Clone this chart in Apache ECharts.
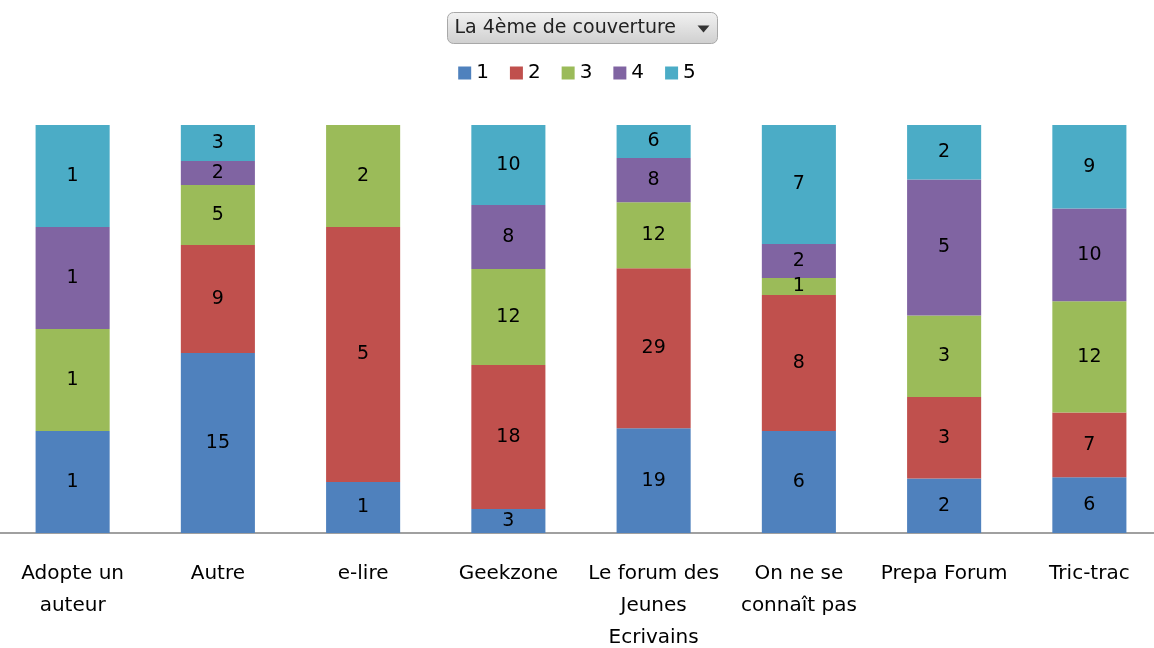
<!DOCTYPE html>
<html><head><meta charset="utf-8">
<script src="https://cdn.jsdelivr.net/npm/echarts@6/dist/echarts.min.js"></script>
<style>html,body{margin:0;padding:0;background:#fff}#c{width:1154px;height:648px}</style>
</head><body><div id="c"></div>
<script>
const categories = ['Adopte un\nauteur', 'Autre', 'e-lire', 'Geekzone', 'Le forum des\nJeunes\nEcrivains', 'On ne se\nconnaît pas', 'Prepa Forum', 'Tric-trac'];
const seriesNames = ['1', '2', '3', '4', '5'];
const s1 = [1, 15, 1, 3, 19, 6, 2, 6];
const s2 = [0, 9, 5, 18, 29, 8, 3, 7];
const s3 = [1, 5, 2, 12, 12, 1, 3, 12];
const s4 = [1, 2, 0, 8, 8, 2, 5, 10];
const s5 = [1, 3, 0, 10, 6, 7, 2, 9];
const colors = ['#4F81BD', '#C0504D', '#9BBB59', '#8064A2', '#4BACC6'];
const filterLabel = 'La 4ème de couverture';

const raw = [s1, s2, s3, s4, s5];
const totals = categories.map((_, i) => raw.reduce((a, s) => a + s[i], 0));
const font = '"DejaVu Sans", Verdana, sans-serif';

const chart = echarts.init(document.getElementById('c'), null, {renderer: 'canvas'});
chart.setOption({
  animation: false,
  color: colors,
  legend: {
    top: 58, left: 'center', itemWidth: 13, itemHeight: 13, itemGap: 21,
    icon: 'rect',
    textStyle: {fontSize: 20, color: '#000', fontFamily: font, padding: [0, 0, 0, 0]},
    data: seriesNames
  },
  graphic: [{
    type: 'group', left: 447, top: 12,
    children: [
      {type: 'rect', shape: {x: 0, y: 0, width: 270, height: 31, r: 6},
       style: {fill: new echarts.graphic.LinearGradient(0, 0, 0, 1, [{offset: 0, color: '#f2f2f2'}, {offset: 1, color: '#cfcfcf'}]), stroke: '#a8a8a8', lineWidth: 1}},
      {type: 'text', x: 7, y: 16, style: {text: filterLabel, font: '19px ' + font, fill: '#222', verticalAlign: 'middle'}},
      {type: 'polygon', shape: {points: [[250, 13], [262, 13], [256, 20]]}, style: {fill: '#333'}}
    ]
  }],
  grid: {left: 0, right: -8, top: 125, bottom: 115, containLabel: false, outerBoundsMode: 'none'},
  xAxis: {
    type: 'category', data: categories,
    axisLine: {lineStyle: {color: '#a0a0a0', width: 2}},
    axisTick: {show: false},
    axisLabel: {fontSize: 20, color: '#000', fontFamily: font, margin: 25, lineHeight: 32, interval: 0}
  },
  yAxis: {type: 'value', min: 0, max: 100, show: false, splitLine: {show: false}},
  series: raw.map((s, k) => ({
    name: seriesNames[k], type: 'bar', stack: 'total', barWidth: '51%',
    data: s.map((v, i) => ({value: v / totals[i] * 100, raw: v})),
    label: {
      show: true, position: 'inside', color: '#000', fontSize: 19, fontFamily: font,
      formatter: p => p.data.raw ? String(p.data.raw) : ''
    }
  }))
});
</script></body></html>
